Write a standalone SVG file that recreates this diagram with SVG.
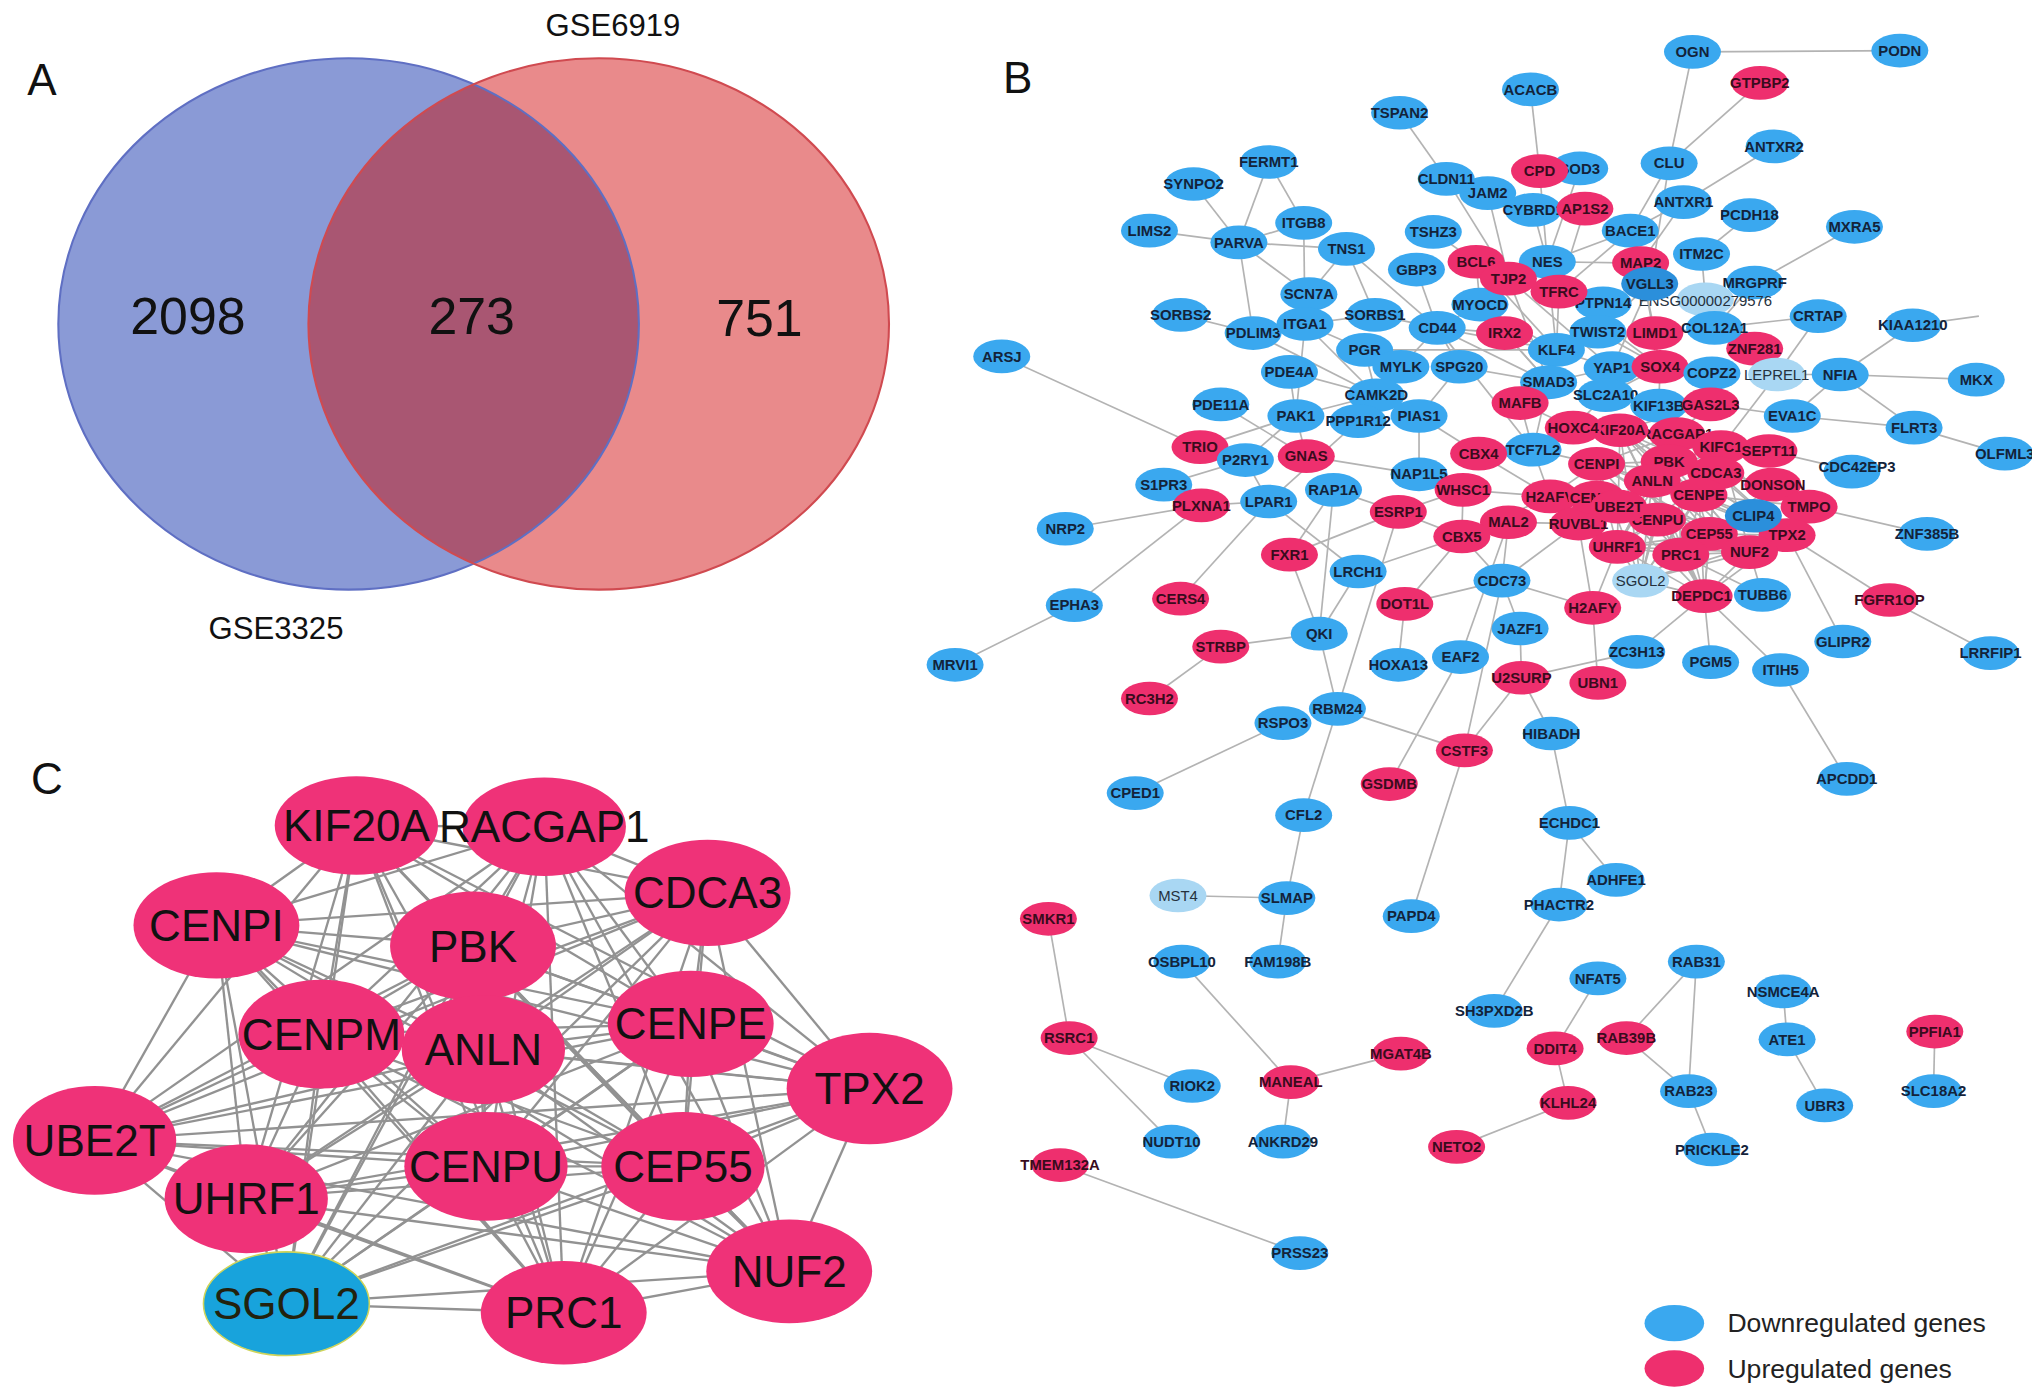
<svg xmlns="http://www.w3.org/2000/svg" width="2032" height="1398" viewBox="0 0 2032 1398">
<defs>
<style>
text{font-family:"Liberation Sans",Arial,Helvetica,sans-serif}
.lbl{font-size:34px;fill:#111}
.venn{font-size:40px;fill:#111;text-anchor:middle}
.setl{font-size:24px;fill:#111;text-anchor:middle}
.gb text{font-size:11.5px;font-weight:bold;text-anchor:middle;fill:#13233a}
.gb.r text{fill:#3a0b1d}
.gb.l text{font-weight:normal;fill:#25313d}
.gb.b ellipse{fill:#3aa8ef}
.gb.d ellipse{fill:#2b8fdb}
.gb.r ellipse{fill:#ee2f6e}
.gb.l ellipse{fill:#a9d7f3}
.gc ellipse{fill:#ef3278}
.gc text{font-size:34px;text-anchor:middle;fill:#111}
#edgesB path{stroke:#b3b3b3;stroke-width:1.3;fill:none}
#edgesC path{stroke:#929292;stroke-width:1.8;fill:none}
.leg{font-size:20.5px;fill:#222}
</style>
<clipPath id="clipBlue"><ellipse cx="269" cy="250" rx="224" ry="205"/></clipPath>
</defs>
<rect width="2032" height="1398" fill="#ffffff"/>
<g transform="scale(1.29592)">

<!-- Panel A -->
<g id="panelA">
<text class="lbl" x="21" y="73">A</text>
<ellipse id="set-GSE3325" cx="269" cy="250" rx="224" ry="205" fill="#8a9ad6"/>
<ellipse id="set-GSE6919" cx="462" cy="250" rx="224" ry="205" fill="#e98a8b"/>
<ellipse id="set-overlap" cx="462" cy="250" rx="224" ry="205" fill="#a95672" clip-path="url(#clipBlue)"/>
<ellipse cx="269" cy="250" rx="224" ry="205" fill="none" stroke="#5f6fc3" stroke-width="1.6"/>
<ellipse cx="462" cy="250" rx="224" ry="205" fill="none" stroke="#d04a50" stroke-width="1.6"/>
<text class="venn" x="145" y="258">2098</text>
<text class="venn" x="364" y="258">273</text>
<text class="venn" x="586" y="259">751</text>
<text class="setl" x="473" y="28">GSE6919</text>
<text class="setl" x="213" y="493">GSE3325</text>
</g>

<text class="lbl" x="774" y="72">B</text>
<text class="lbl" x="24" y="613">C</text>

<g id="edgesB">
<path d="M1306 40L1466 39"/><path d="M1306 40L1288 126"/><path d="M1358 64L1288 126"/><path d="M1288 126L1258 178"/><path d="M1288 126L1273 221"/>
<path d="M1369 113L1299 156"/><path d="M1299 156L1258 178"/><path d="M1299 156L1266 203"/><path d="M1181 69L1188 132"/><path d="M1188 132L1194 202"/>
<path d="M1183 162L1194 202"/><path d="M1223 161L1203 225"/><path d="M1219 130L1194 202"/><path d="M1080 87L1116 138"/><path d="M1116 138L1164 215"/>
<path d="M1148 149L1164 215"/><path d="M1350 166L1313 196"/><path d="M1431 175L1354 218"/><path d="M1313 196L1316 231"/><path d="M1258 178L1194 202"/>
<path d="M1258 178L1266 203"/><path d="M1258 178L1203 225"/><path d="M1194 202L1266 203"/><path d="M1194 202L1203 225"/><path d="M1403 244L1323 253"/>
<path d="M1403 244L1371 289"/><path d="M1476 251L1420 289"/><path d="M1476 251L1527 244"/><path d="M1420 289L1371 289"/><path d="M1420 289L1525 293"/>
<path d="M1420 289L1383 321"/><path d="M1420 289L1477 330"/><path d="M1383 321L1477 330"/><path d="M1477 330L1545 350"/><path d="M1371 289L1328 345"/>
<path d="M1429 363L1365 348"/><path d="M1323 253L1277 257"/><path d="M1354 218L1323 253"/><path d="M1383 321L1320 312"/>
<path d="M979 125L956 187"/><path d="M979 125L1006 172"/><path d="M921 142L956 187"/><path d="M887 178L956 187"/><path d="M956 187L1006 172"/>
<path d="M956 187L1039 192"/><path d="M956 187L967 257"/><path d="M956 187L1010 227"/><path d="M1006 172L1007 250"/><path d="M1039 192L1010 227"/>
<path d="M1039 192L1061 243"/><path d="M1039 192L1109 253"/><path d="M911 243L967 257"/><path d="M1007 250L1061 243"/><path d="M1007 250L1000 321"/>
<path d="M1007 250L1053 270"/><path d="M967 257L1062 305"/><path d="M1007 250L1062 305"/><path d="M995 287L1062 305"/><path d="M995 287L1000 321"/>
<path d="M1093 208L1109 253"/><path d="M1106 179L1139 202"/><path d="M1061 243L1109 253"/><path d="M1109 253L1081 283"/><path d="M1109 253L1126 283"/>
<path d="M1053 270L1081 283"/><path d="M1053 270L1062 305"/><path d="M1081 283L1062 305"/><path d="M1126 283L1095 321"/><path d="M1062 305L1000 321"/>
<path d="M1062 305L1095 321"/><path d="M1000 321L926 345"/><path d="M1000 321L961 355"/><path d="M1000 321L1008 352"/><path d="M942 312L1008 352"/>
<path d="M773 275L926 345"/><path d="M1095 321L1095 366"/><path d="M1095 321L1141 350"/><path d="M1008 352L1095 366"/><path d="M1048 325L979 387"/>
<path d="M961 355L979 387"/><path d="M898 374L961 355"/><path d="M927 390L979 387"/><path d="M927 390L822 408"/><path d="M927 390L829 467"/>
<path d="M829 467L737 513"/><path d="M979 387L911 462"/><path d="M979 387L1048 441"/><path d="M1029 378L1079 395"/><path d="M1029 378L995 428"/>
<path d="M1029 378L1018 489"/><path d="M995 428L1018 489"/><path d="M1079 395L995 428"/><path d="M1079 395L1128 414"/><path d="M1079 395L1032 547"/>
<path d="M1048 441L1018 489"/><path d="M1048 441L1128 414"/><path d="M1018 489L942 499"/><path d="M1018 489L1032 547"/><path d="M942 499L887 539"/>
<path d="M1032 547L1006 629"/><path d="M1032 547L1130 579"/><path d="M990 558L876 612"/><path d="M1006 629L993 693"/><path d="M993 693L909 691"/>
<path d="M993 693L986 742"/><path d="M1084 466L1079 513"/><path d="M1084 466L1128 414"/><path d="M1084 466L1159 448"/><path d="M1127 507L1072 605"/>
<path d="M1127 507L1164 403"/><path d="M1130 579L1089 707"/><path d="M1130 579L1159 448"/><path d="M1130 579L1174 523"/><path d="M1174 523L1173 485"/>
<path d="M1174 523L1197 566"/><path d="M1174 523L1263 503"/><path d="M1197 566L1211 635"/><path d="M1211 635L1247 679"/><path d="M1211 635L1203 698"/>
<path d="M1203 698L1153 780"/><path d="M1173 485L1159 448"/><path d="M1159 448L1229 469"/><path d="M1159 448L1164 403"/><path d="M1159 448L1218 404"/>
<path d="M1159 448L1128 414"/><path d="M1229 469L1233 527"/><path d="M1229 469L1248 422"/><path d="M1229 469L1218 404"/><path d="M1315 460L1263 503"/>
<path d="M1315 460L1320 511"/><path d="M1315 460L1374 517"/><path d="M1374 517L1425 601"/><path d="M1379 413L1422 495"/><path d="M1379 413L1458 463"/>
<path d="M1458 463L1536 504"/><path d="M1396 391L1487 412"/><path d="M1360 459L1350 426"/><path d="M1360 459L1297 428"/>
<path d="M809 709L825 801"/><path d="M825 801L920 838"/><path d="M825 801L904 881"/><path d="M912 742L996 835"/><path d="M996 835L1081 813"/>
<path d="M996 835L990 881"/><path d="M818 899L1003 967"/><path d="M1233 755L1200 809"/><path d="M1200 809L1210 851"/><path d="M1210 851L1124 885"/>
<path d="M1309 742L1255 801"/><path d="M1309 742L1303 842"/><path d="M1255 801L1303 842"/><path d="M1303 842L1321 887"/><path d="M1376 765L1379 802"/>
<path d="M1379 802L1408 853"/><path d="M1493 796L1492 842"/>
<path d="M1194 202L1233 256"/><path d="M1194 202L1201 270"/><path d="M1164 215L1244 284"/><path d="M1164 215L1195 295"/><path d="M1203 225L1201 270"/>
<path d="M1203 225L1281 283"/><path d="M1273 219L1244 284"/><path d="M1273 219L1233 256"/><path d="M1266 203L1281 283"/><path d="M1266 203L1277 257"/>
<path d="M1142 235L1195 295"/><path d="M1142 235L1201 270"/><path d="M1142 235L1109 253"/><path d="M1161 257L1201 270"/><path d="M1161 257L1195 295"/>
<path d="M1109 253L1161 257"/><path d="M1109 253L1201 270"/><path d="M1109 253L1195 295"/><path d="M1109 253L1183 347"/><path d="M1139 202L1201 270"/>
<path d="M1139 202L1142 235"/><path d="M1233 256L1281 283"/><path d="M1201 270L1195 295"/><path d="M1201 270L1244 284"/><path d="M1195 295L1244 284"/>
<path d="M1195 295L1183 347"/><path d="M1195 295L1173 311"/><path d="M1244 284L1281 283"/><path d="M1281 283L1280 313"/><path d="M1281 283L1321 288"/>
<path d="M1281 283L1239 305"/><path d="M1354 269L1323 253"/><path d="M1321 288L1320 312"/><path d="M1239 305L1214 330"/><path d="M1280 313L1320 312"/>
<path d="M1173 311L1183 347"/><path d="M1183 347L1141 350"/><path d="M1183 347L1196 383"/><path d="M1183 347L1232 358"/><path d="M1214 330L1173 311"/>
<path d="M1141 350L1196 383"/><path d="M1129 378L1196 383"/><path d="M1129 378L1128 414"/><path d="M1129 378L1079 395"/><path d="M1164 403L1218 404"/>
<path d="M1128 414L1196 383"/><path d="M1196 383L1218 404"/><path d="M1196 383L1232 358"/><path d="M1218 404L1248 422"/><path d="M1126 283L1195 295"/>
<path d="M1053 270L1201 270"/><path d="M1095 366L1129 378"/><path d="M1320 312L1250 332"/><path d="M1320 312L1294 335"/><path d="M1396 391L1379 413"/>
<path d="M1396 391L1311 382"/><path d="M1368 374L1324 365"/><path d="M1368 374L1319 412"/><path d="M1353 398L1311 382"/>
<path d="M1266 448L1250 332"/><path d="M1266 448L1294 335"/><path d="M1266 448L1232 358"/><path d="M1266 448L1288 356"/><path d="M1266 448L1275 371"/>
<path d="M1266 448L1311 382"/><path d="M1266 448L1319 412"/><path d="M1266 448L1297 428"/><path d="M1266 448L1350 426"/><path d="M1266 448L1248 422"/>
<path d="M1266 448L1379 413"/><path d="M1266 448L1315 460"/><path d="M1266 448L1324 365"/><path d="M1266 448L1279 401"/>
<path d="M1315 460L1297 428"/><path d="M1315 460L1350 426"/><path d="M1315 460L1319 412"/><path d="M1315 460L1279 401"/><path d="M1315 460L1248 422"/>
<path d="M1315 460L1379 413"/><path d="M1315 460L1275 371"/><path d="M1315 460L1311 382"/><path d="M1315 460L1288 356"/><path d="M1315 460L1250 332"/>
<path d="M1315 460L1324 365"/><path d="M1315 460L1249 391"/>
<path d="M1379 413L1250 332"/><path d="M1379 413L1294 335"/><path d="M1379 413L1232 358"/><path d="M1379 413L1288 356"/><path d="M1379 413L1275 371"/>
<path d="M1379 413L1311 382"/><path d="M1379 413L1319 412"/><path d="M1379 413L1297 428"/><path d="M1379 413L1350 426"/><path d="M1379 413L1248 422"/>
<path d="M1379 413L1249 391"/><path d="M1379 413L1324 365"/><path d="M1379 413L1279 401"/>
<path d="M1350 426L1250 332"/><path d="M1350 426L1232 358"/><path d="M1350 426L1288 356"/><path d="M1350 426L1275 371"/><path d="M1350 426L1311 382"/>
<path d="M1350 426L1319 412"/><path d="M1350 426L1297 428"/><path d="M1350 426L1248 422"/><path d="M1350 426L1249 391"/><path d="M1350 426L1279 401"/>
<path d="M1248 422L1250 332"/><path d="M1248 422L1294 335"/><path d="M1248 422L1232 358"/><path d="M1248 422L1288 356"/><path d="M1248 422L1275 371"/>
<path d="M1248 422L1311 382"/><path d="M1248 422L1319 412"/><path d="M1248 422L1297 428"/><path d="M1248 422L1324 365"/>
<path d="M1232 358L1294 335"/><path d="M1232 358L1288 356"/><path d="M1232 358L1275 371"/><path d="M1232 358L1311 382"/><path d="M1232 358L1319 412"/>
<path d="M1232 358L1297 428"/><path d="M1232 358L1324 365"/>
<path d="M1250 332L1288 356"/><path d="M1250 332L1311 382"/><path d="M1250 332L1319 412"/><path d="M1250 332L1297 428"/><path d="M1250 332L1324 365"/>
<path d="M1294 335L1275 371"/><path d="M1294 335L1311 382"/><path d="M1294 335L1319 412"/><path d="M1294 335L1297 428"/><path d="M1294 335L1249 391"/>
<path d="M1328 345L1288 356"/><path d="M1328 345L1275 371"/><path d="M1328 345L1319 412"/><path d="M1328 345L1350 426"/><path d="M1328 345L1379 413"/>
<path d="M1328 345L1297 428"/><path d="M1328 345L1250 332"/>
</g>

<g id="nodesB">
<g id="b-OGN" class="gb b"><ellipse cx="1306" cy="40" rx="22" ry="13"/><text x="1306" y="44">OGN</text></g>
<g id="b-PODN" class="gb b"><ellipse cx="1466" cy="39" rx="22" ry="13"/><text x="1466" y="43">PODN</text></g>
<g id="b-GTPBP2" class="gb r"><ellipse cx="1358" cy="64" rx="22" ry="13"/><text x="1358" y="68">GTPBP2</text></g>
<g id="b-ACACB" class="gb b"><ellipse cx="1181" cy="69" rx="22" ry="13"/><text x="1181" y="73">ACACB</text></g>
<g id="b-TSPAN2" class="gb b"><ellipse cx="1080" cy="87" rx="22" ry="13"/><text x="1080" y="91">TSPAN2</text></g>
<g id="b-ANTXR2" class="gb b"><ellipse cx="1369" cy="113" rx="22" ry="13"/><text x="1369" y="117">ANTXR2</text></g>
<g id="b-CLU" class="gb b"><ellipse cx="1288" cy="126" rx="22" ry="13"/><text x="1288" y="130">CLU</text></g>
<g id="b-FERMT1" class="gb b"><ellipse cx="979" cy="125" rx="22" ry="13"/><text x="979" y="129">FERMT1</text></g>
<g id="b-SOD3" class="gb b"><ellipse cx="1219" cy="130" rx="22" ry="13"/><text x="1219" y="134">SOD3</text></g>
<g id="b-CPD" class="gb r"><ellipse cx="1188" cy="132" rx="22" ry="13"/><text x="1188" y="136">CPD</text></g>
<g id="b-JAM2" class="gb b"><ellipse cx="1148" cy="149" rx="22" ry="13"/><text x="1148" y="153">JAM2</text></g>
<g id="b-CLDN11" class="gb b"><ellipse cx="1116" cy="138" rx="22" ry="13"/><text x="1116" y="142">CLDN11</text></g>
<g id="b-SYNPO2" class="gb b"><ellipse cx="921" cy="142" rx="22" ry="13"/><text x="921" y="146">SYNPO2</text></g>
<g id="b-ANTXR1" class="gb b"><ellipse cx="1299" cy="156" rx="22" ry="13"/><text x="1299" y="160">ANTXR1</text></g>
<g id="b-CYBRD1" class="gb b"><ellipse cx="1183" cy="162" rx="22" ry="13"/><text x="1183" y="166">CYBRD1</text></g>
<g id="b-AP1S2" class="gb r"><ellipse cx="1223" cy="161" rx="22" ry="13"/><text x="1223" y="165">AP1S2</text></g>
<g id="b-PCDH18" class="gb b"><ellipse cx="1350" cy="166" rx="22" ry="13"/><text x="1350" y="170">PCDH18</text></g>
<g id="b-MXRA5" class="gb b"><ellipse cx="1431" cy="175" rx="22" ry="13"/><text x="1431" y="179">MXRA5</text></g>
<g id="b-LIMS2" class="gb b"><ellipse cx="887" cy="178" rx="22" ry="13"/><text x="887" y="182">LIMS2</text></g>
<g id="b-PARVA" class="gb b"><ellipse cx="956" cy="187" rx="22" ry="13"/><text x="956" y="191">PARVA</text></g>
<g id="b-ITGB8" class="gb b"><ellipse cx="1006" cy="172" rx="22" ry="13"/><text x="1006" y="176">ITGB8</text></g>
<g id="b-TSHZ3" class="gb b"><ellipse cx="1106" cy="179" rx="22" ry="13"/><text x="1106" y="183">TSHZ3</text></g>
<g id="b-BACE1" class="gb b"><ellipse cx="1258" cy="178" rx="22" ry="13"/><text x="1258" y="182">BACE1</text></g>
<g id="b-TNS1" class="gb b"><ellipse cx="1039" cy="192" rx="22" ry="13"/><text x="1039" y="196">TNS1</text></g>
<g id="b-ITM2C" class="gb b"><ellipse cx="1313" cy="196" rx="22" ry="13"/><text x="1313" y="200">ITM2C</text></g>
<g id="b-GBP3" class="gb b"><ellipse cx="1093" cy="208" rx="22" ry="13"/><text x="1093" y="212">GBP3</text></g>
<g id="b-MYOCD" class="gb b"><ellipse cx="1142" cy="235" rx="22" ry="13"/><text x="1142" y="239">MYOCD</text></g>
<g id="b-BCL6" class="gb r"><ellipse cx="1139" cy="202" rx="22" ry="13"/><text x="1139" y="206">BCL6</text></g>
<g id="b-NES" class="gb b"><ellipse cx="1194" cy="202" rx="22" ry="13"/><text x="1194" y="206">NES</text></g>
<g id="b-MAP2" class="gb r"><ellipse cx="1266" cy="203" rx="22" ry="13"/><text x="1266" y="207">MAP2</text></g>
<g id="b-TJP2" class="gb r"><ellipse cx="1164" cy="215" rx="22" ry="13"/><text x="1164" y="219">TJP2</text></g>
<g id="b-MRGPRF" class="gb b"><ellipse cx="1354" cy="218" rx="22" ry="13"/><text x="1354" y="222">MRGPRF</text></g>
<g id="b-ENSG00000279576" class="gb l"><ellipse cx="1316" cy="231" rx="22" ry="13"/><text x="1316" y="236">ENSG00000279576</text></g>
<g id="b-VGLL3" class="gb b d"><ellipse cx="1273" cy="219" rx="22" ry="13"/><text x="1273" y="223">VGLL3</text></g>
<g id="b-PTPN14" class="gb b"><ellipse cx="1237" cy="234" rx="22" ry="13"/><text x="1237" y="238">PTPN14</text></g>
<g id="b-TFRC" class="gb r"><ellipse cx="1203" cy="225" rx="22" ry="13"/><text x="1203" y="229">TFRC</text></g>
<g id="b-SCN7A" class="gb b"><ellipse cx="1010" cy="227" rx="22" ry="13"/><text x="1010" y="231">SCN7A</text></g>
<g id="b-PDLIM3" class="gb b"><ellipse cx="967" cy="257" rx="22" ry="13"/><text x="967" y="261">PDLIM3</text></g>
<g id="b-ITGA1" class="gb b"><ellipse cx="1007" cy="250" rx="22" ry="13"/><text x="1007" y="254">ITGA1</text></g>
<g id="b-SORBS1" class="gb b"><ellipse cx="1061" cy="243" rx="22" ry="13"/><text x="1061" y="247">SORBS1</text></g>
<g id="b-SORBS2" class="gb b"><ellipse cx="911" cy="243" rx="22" ry="13"/><text x="911" y="247">SORBS2</text></g>
<g id="b-CD44" class="gb b"><ellipse cx="1109" cy="253" rx="22" ry="13"/><text x="1109" y="257">CD44</text></g>
<g id="b-CRTAP" class="gb b"><ellipse cx="1403" cy="244" rx="22" ry="13"/><text x="1403" y="248">CRTAP</text></g>
<g id="b-KIAA1210" class="gb b"><ellipse cx="1476" cy="251" rx="22" ry="13"/><text x="1476" y="255">KIAA1210</text></g>
<g id="b-IRX2" class="gb r"><ellipse cx="1161" cy="257" rx="22" ry="13"/><text x="1161" y="261">IRX2</text></g>
<g id="b-TWIST2" class="gb b"><ellipse cx="1233" cy="256" rx="22" ry="13"/><text x="1233" y="260">TWIST2</text></g>
<g id="b-LIMD1" class="gb r"><ellipse cx="1277" cy="257" rx="22" ry="13"/><text x="1277" y="261">LIMD1</text></g>
<g id="b-ZNF281" class="gb r"><ellipse cx="1354" cy="269" rx="22" ry="13"/><text x="1354" y="273">ZNF281</text></g>
<g id="b-COL12A1" class="gb b"><ellipse cx="1323" cy="253" rx="22" ry="13"/><text x="1323" y="257">COL12A1</text></g>
<g id="b-KLF4" class="gb b"><ellipse cx="1201" cy="270" rx="22" ry="13"/><text x="1201" y="274">KLF4</text></g>
<g id="b-PGR" class="gb b"><ellipse cx="1053" cy="270" rx="22" ry="13"/><text x="1053" y="274">PGR</text></g>
<g id="b-ARSJ" class="gb b"><ellipse cx="773" cy="275" rx="22" ry="13"/><text x="773" y="279">ARSJ</text></g>
<g id="b-YAP1" class="gb b"><ellipse cx="1244" cy="284" rx="22" ry="13"/><text x="1244" y="288">YAP1</text></g>
<g id="b-SOX4" class="gb r"><ellipse cx="1281" cy="283" rx="22" ry="13"/><text x="1281" y="287">SOX4</text></g>
<g id="b-MYLK" class="gb b"><ellipse cx="1081" cy="283" rx="22" ry="13"/><text x="1081" y="287">MYLK</text></g>
<g id="b-SPG20" class="gb b"><ellipse cx="1126" cy="283" rx="22" ry="13"/><text x="1126" y="287">SPG20</text></g>
<g id="b-COPZ2" class="gb b"><ellipse cx="1321" cy="288" rx="22" ry="13"/><text x="1321" y="292">COPZ2</text></g>
<g id="b-LEPREL1" class="gb l"><ellipse cx="1371" cy="289" rx="22" ry="13"/><text x="1371" y="293">LEPREL1</text></g>
<g id="b-NFIA" class="gb b"><ellipse cx="1420" cy="289" rx="22" ry="13"/><text x="1420" y="293">NFIA</text></g>
<g id="b-MKX" class="gb b"><ellipse cx="1525" cy="293" rx="22" ry="13"/><text x="1525" y="297">MKX</text></g>
<g id="b-PDE4A" class="gb b"><ellipse cx="995" cy="287" rx="22" ry="13"/><text x="995" y="291">PDE4A</text></g>
<g id="b-SMAD3" class="gb b"><ellipse cx="1195" cy="295" rx="22" ry="13"/><text x="1195" y="299">SMAD3</text></g>
<g id="b-SLC2A10" class="gb b"><ellipse cx="1239" cy="305" rx="22" ry="13"/><text x="1239" y="309">SLC2A10</text></g>
<g id="b-MAFB" class="gb r"><ellipse cx="1173" cy="311" rx="22" ry="13"/><text x="1173" y="315">MAFB</text></g>
<g id="b-KIF13B" class="gb b"><ellipse cx="1280" cy="313" rx="22" ry="13"/><text x="1280" y="317">KIF13B</text></g>
<g id="b-GAS2L3" class="gb r"><ellipse cx="1320" cy="312" rx="22" ry="13"/><text x="1320" y="316">GAS2L3</text></g>
<g id="b-PDE11A" class="gb b"><ellipse cx="942" cy="312" rx="22" ry="13"/><text x="942" y="316">PDE11A</text></g>
<g id="b-EVA1C" class="gb b"><ellipse cx="1383" cy="321" rx="22" ry="13"/><text x="1383" y="325">EVA1C</text></g>
<g id="b-FLRT3" class="gb b"><ellipse cx="1477" cy="330" rx="22" ry="13"/><text x="1477" y="334">FLRT3</text></g>
<g id="b-OLFML3" class="gb b"><ellipse cx="1547" cy="350" rx="22" ry="13"/><text x="1547" y="354">OLFML3</text></g>
<g id="b-CAMK2D" class="gb b"><ellipse cx="1062" cy="305" rx="22" ry="13"/><text x="1062" y="309">CAMK2D</text></g>
<g id="b-PAK1" class="gb b"><ellipse cx="1000" cy="321" rx="22" ry="13"/><text x="1000" y="325">PAK1</text></g>
<g id="b-PPP1R12" class="gb b"><ellipse cx="1048" cy="325" rx="22" ry="13"/><text x="1048" y="329">PPP1R12</text></g>
<g id="b-PIAS1" class="gb b"><ellipse cx="1095" cy="321" rx="22" ry="13"/><text x="1095" y="325">PIAS1</text></g>
<g id="b-RACGAP1" class="gb r"><ellipse cx="1294" cy="335" rx="22" ry="13"/><text x="1294" y="339">RACGAP1</text></g>
<g id="b-KIF20A" class="gb r"><ellipse cx="1250" cy="332" rx="22" ry="13"/><text x="1250" y="336">KIF20A</text></g>
<g id="b-HOXC4" class="gb r"><ellipse cx="1214" cy="330" rx="22" ry="13"/><text x="1214" y="334">HOXC4</text></g>
<g id="b-KIFC1" class="gb r"><ellipse cx="1328" cy="345" rx="22" ry="13"/><text x="1328" y="349">KIFC1</text></g>
<g id="b-SEPT11" class="gb r"><ellipse cx="1365" cy="348" rx="22" ry="13"/><text x="1365" y="352">SEPT11</text></g>
<g id="b-TRIO" class="gb r"><ellipse cx="926" cy="345" rx="22" ry="13"/><text x="926" y="349">TRIO</text></g>
<g id="b-TCF7L2" class="gb b"><ellipse cx="1183" cy="347" rx="22" ry="13"/><text x="1183" y="351">TCF7L2</text></g>
<g id="b-CBX4" class="gb r"><ellipse cx="1141" cy="350" rx="22" ry="13"/><text x="1141" y="354">CBX4</text></g>
<g id="b-P2RY1" class="gb b"><ellipse cx="961" cy="355" rx="22" ry="13"/><text x="961" y="359">P2RY1</text></g>
<g id="b-GNAS" class="gb r"><ellipse cx="1008" cy="352" rx="22" ry="13"/><text x="1008" y="356">GNAS</text></g>
<g id="b-PBK" class="gb r"><ellipse cx="1288" cy="356" rx="22" ry="13"/><text x="1288" y="360">PBK</text></g>
<g id="b-CENPI" class="gb r"><ellipse cx="1232" cy="358" rx="22" ry="13"/><text x="1232" y="362">CENPI</text></g>
<g id="b-CDCA3" class="gb r"><ellipse cx="1324" cy="365" rx="22" ry="13"/><text x="1324" y="369">CDCA3</text></g>
<g id="b-CDC42EP3" class="gb b"><ellipse cx="1429" cy="364" rx="22" ry="13"/><text x="1433" y="364">CDC42EP3</text></g>
<g id="b-NAP1L5" class="gb b"><ellipse cx="1095" cy="366" rx="22" ry="13"/><text x="1095" y="370">NAP1L5</text></g>
<g id="b-WHSC1" class="gb r"><ellipse cx="1129" cy="378" rx="22" ry="13"/><text x="1129" y="382">WHSC1</text></g>
<g id="b-ANLN" class="gb r"><ellipse cx="1275" cy="371" rx="22" ry="13"/><text x="1275" y="375">ANLN</text></g>
<g id="b-DONSON" class="gb r"><ellipse cx="1368" cy="374" rx="22" ry="13"/><text x="1368" y="378">DONSON</text></g>
<g id="b-CENPE" class="gb r"><ellipse cx="1311" cy="382" rx="22" ry="13"/><text x="1311" y="386">CENPE</text></g>
<g id="b-H2AFV" class="gb r"><ellipse cx="1196" cy="383" rx="22" ry="13"/><text x="1196" y="387">H2AFV</text></g>
<g id="b-RUVBL1" class="gb r"><ellipse cx="1218" cy="404" rx="22" ry="13"/><text x="1218" y="408">RUVBL1</text></g>
<g id="b-CENPM" class="gb r"><ellipse cx="1232" cy="384" rx="22" ry="13"/><text x="1232" y="388">CENPM</text></g>
<g id="b-CENPU" class="gb r"><ellipse cx="1279" cy="401" rx="22" ry="13"/><text x="1279" y="405">CENPU</text></g>
<g id="b-UBE2T" class="gb r"><ellipse cx="1249" cy="391" rx="22" ry="13"/><text x="1249" y="395">UBE2T</text></g>
<g id="b-TMPO" class="gb r"><ellipse cx="1396" cy="391" rx="22" ry="13"/><text x="1396" y="395">TMPO</text></g>
<g id="b-S1PR3" class="gb b"><ellipse cx="898" cy="374" rx="22" ry="13"/><text x="898" y="378">S1PR3</text></g>
<g id="b-PLXNA1" class="gb r"><ellipse cx="927" cy="390" rx="22" ry="13"/><text x="927" y="394">PLXNA1</text></g>
<g id="b-LPAR1" class="gb b"><ellipse cx="979" cy="387" rx="22" ry="13"/><text x="979" y="391">LPAR1</text></g>
<g id="b-RAP1A" class="gb b"><ellipse cx="1029" cy="378" rx="22" ry="13"/><text x="1029" y="382">RAP1A</text></g>
<g id="b-MAL2" class="gb r"><ellipse cx="1164" cy="403" rx="22" ry="13"/><text x="1164" y="407">MAL2</text></g>
<g id="b-CEP55" class="gb r"><ellipse cx="1319" cy="412" rx="22" ry="13"/><text x="1319" y="416">CEP55</text></g>
<g id="b-TPX2" class="gb r"><ellipse cx="1379" cy="413" rx="22" ry="13"/><text x="1379" y="417">TPX2</text></g>
<g id="b-NUF2" class="gb r"><ellipse cx="1350" cy="426" rx="22" ry="13"/><text x="1350" y="430">NUF2</text></g>
<g id="b-CLIP4" class="gb b d"><ellipse cx="1353" cy="398" rx="22" ry="13"/><text x="1353" y="402">CLIP4</text></g>
<g id="b-ZNF385B" class="gb b"><ellipse cx="1487" cy="412" rx="22" ry="13"/><text x="1487" y="416">ZNF385B</text></g>
<g id="b-NRP2" class="gb b"><ellipse cx="822" cy="408" rx="22" ry="13"/><text x="822" y="412">NRP2</text></g>
<g id="b-ESRP1" class="gb r"><ellipse cx="1079" cy="395" rx="22" ry="13"/><text x="1079" y="399">ESRP1</text></g>
<g id="b-CBX5" class="gb r"><ellipse cx="1128" cy="414" rx="22" ry="13"/><text x="1128" y="418">CBX5</text></g>
<g id="b-UHRF1" class="gb r"><ellipse cx="1248" cy="422" rx="22" ry="13"/><text x="1248" y="426">UHRF1</text></g>
<g id="b-PRC1" class="gb r"><ellipse cx="1297" cy="428" rx="22" ry="13"/><text x="1297" y="432">PRC1</text></g>
<g id="b-FXR1" class="gb r"><ellipse cx="995" cy="428" rx="22" ry="13"/><text x="995" y="432">FXR1</text></g>
<g id="b-LRCH1" class="gb b"><ellipse cx="1048" cy="441" rx="22" ry="13"/><text x="1048" y="445">LRCH1</text></g>
<g id="b-CDC73" class="gb b"><ellipse cx="1159" cy="448" rx="22" ry="13"/><text x="1159" y="452">CDC73</text></g>
<g id="b-SGOL2" class="gb l"><ellipse cx="1266" cy="448" rx="22" ry="13"/><text x="1266" y="452">SGOL2</text></g>
<g id="b-DEPDC1" class="gb r"><ellipse cx="1315" cy="460" rx="22" ry="13"/><text x="1313" y="464">DEPDC1</text></g>
<g id="b-TUBB6" class="gb b"><ellipse cx="1360" cy="459" rx="22" ry="13"/><text x="1360" y="463">TUBB6</text></g>
<g id="b-FGFR1OP" class="gb r"><ellipse cx="1458" cy="463" rx="22" ry="13"/><text x="1458" y="467">FGFR1OP</text></g>
<g id="b-CERS4" class="gb r"><ellipse cx="911" cy="462" rx="22" ry="13"/><text x="911" y="466">CERS4</text></g>
<g id="b-EPHA3" class="gb b"><ellipse cx="829" cy="467" rx="22" ry="13"/><text x="829" y="471">EPHA3</text></g>
<g id="b-DOT1L" class="gb r"><ellipse cx="1084" cy="466" rx="22" ry="13"/><text x="1084" y="470">DOT1L</text></g>
<g id="b-H2AFY" class="gb r"><ellipse cx="1229" cy="469" rx="22" ry="13"/><text x="1229" y="473">H2AFY</text></g>
<g id="b-GLIPR2" class="gb b"><ellipse cx="1422" cy="495" rx="22" ry="13"/><text x="1422" y="499">GLIPR2</text></g>
<g id="b-JAZF1" class="gb b"><ellipse cx="1173" cy="485" rx="22" ry="13"/><text x="1173" y="489">JAZF1</text></g>
<g id="b-QKI" class="gb b"><ellipse cx="1018" cy="489" rx="22" ry="13"/><text x="1018" y="493">QKI</text></g>
<g id="b-ZC3H13" class="gb b"><ellipse cx="1263" cy="503" rx="22" ry="13"/><text x="1263" y="507">ZC3H13</text></g>
<g id="b-STRBP" class="gb r"><ellipse cx="942" cy="499" rx="22" ry="13"/><text x="942" y="503">STRBP</text></g>
<g id="b-MRVI1" class="gb b"><ellipse cx="737" cy="513" rx="22" ry="13"/><text x="737" y="517">MRVI1</text></g>
<g id="b-LRRFIP1" class="gb b"><ellipse cx="1536" cy="504" rx="22" ry="13"/><text x="1536" y="508">LRRFIP1</text></g>
<g id="b-HOXA13" class="gb b"><ellipse cx="1079" cy="513" rx="22" ry="13"/><text x="1079" y="517">HOXA13</text></g>
<g id="b-EAF2" class="gb b"><ellipse cx="1127" cy="507" rx="22" ry="13"/><text x="1127" y="511">EAF2</text></g>
<g id="b-PGM5" class="gb b"><ellipse cx="1320" cy="511" rx="22" ry="13"/><text x="1320" y="515">PGM5</text></g>
<g id="b-ITIH5" class="gb b"><ellipse cx="1374" cy="517" rx="22" ry="13"/><text x="1374" y="521">ITIH5</text></g>
<g id="b-U2SURP" class="gb r"><ellipse cx="1174" cy="523" rx="22" ry="13"/><text x="1174" y="527">U2SURP</text></g>
<g id="b-UBN1" class="gb r"><ellipse cx="1233" cy="527" rx="22" ry="13"/><text x="1233" y="531">UBN1</text></g>
<g id="b-RC3H2" class="gb r"><ellipse cx="887" cy="539" rx="22" ry="13"/><text x="887" y="543">RC3H2</text></g>
<g id="b-RBM24" class="gb b"><ellipse cx="1032" cy="547" rx="22" ry="13"/><text x="1032" y="551">RBM24</text></g>
<g id="b-RSPO3" class="gb b"><ellipse cx="990" cy="558" rx="22" ry="13"/><text x="990" y="562">RSPO3</text></g>
<g id="b-HIBADH" class="gb b"><ellipse cx="1197" cy="566" rx="22" ry="13"/><text x="1197" y="570">HIBADH</text></g>
<g id="b-CSTF3" class="gb r"><ellipse cx="1130" cy="579" rx="22" ry="13"/><text x="1130" y="583">CSTF3</text></g>
<g id="b-GSDMB" class="gb r"><ellipse cx="1072" cy="605" rx="22" ry="13"/><text x="1072" y="609">GSDMB</text></g>
<g id="b-APCDD1" class="gb b"><ellipse cx="1425" cy="601" rx="22" ry="13"/><text x="1425" y="605">APCDD1</text></g>
<g id="b-CPED1" class="gb b"><ellipse cx="876" cy="612" rx="22" ry="13"/><text x="876" y="616">CPED1</text></g>
<g id="b-CFL2" class="gb b"><ellipse cx="1006" cy="629" rx="22" ry="13"/><text x="1006" y="633">CFL2</text></g>
<g id="b-ECHDC1" class="gb b"><ellipse cx="1211" cy="635" rx="22" ry="13"/><text x="1211" y="639">ECHDC1</text></g>
<g id="b-ADHFE1" class="gb b"><ellipse cx="1247" cy="679" rx="22" ry="13"/><text x="1247" y="683">ADHFE1</text></g>
<g id="b-MST4" class="gb l"><ellipse cx="909" cy="691" rx="22" ry="13"/><text x="909" y="695">MST4</text></g>
<g id="b-SLMAP" class="gb b"><ellipse cx="993" cy="693" rx="22" ry="13"/><text x="993" y="697">SLMAP</text></g>
<g id="b-PHACTR2" class="gb b"><ellipse cx="1203" cy="698" rx="22" ry="13"/><text x="1203" y="702">PHACTR2</text></g>
<g id="b-PAPD4" class="gb b"><ellipse cx="1089" cy="707" rx="22" ry="13"/><text x="1089" y="711">PAPD4</text></g>
<g id="b-SMKR1" class="gb r"><ellipse cx="809" cy="709" rx="22" ry="13"/><text x="809" y="713">SMKR1</text></g>
<g id="b-OSBPL10" class="gb b"><ellipse cx="912" cy="742" rx="22" ry="13"/><text x="912" y="746">OSBPL10</text></g>
<g id="b-FAM198B" class="gb b"><ellipse cx="986" cy="742" rx="22" ry="13"/><text x="986" y="746">FAM198B</text></g>
<g id="b-RAB31" class="gb b"><ellipse cx="1309" cy="742" rx="22" ry="13"/><text x="1309" y="746">RAB31</text></g>
<g id="b-NFAT5" class="gb b"><ellipse cx="1233" cy="755" rx="22" ry="13"/><text x="1233" y="759">NFAT5</text></g>
<g id="b-NSMCE4A" class="gb b"><ellipse cx="1376" cy="765" rx="22" ry="13"/><text x="1376" y="769">NSMCE4A</text></g>
<g id="b-SH3PXD2B" class="gb b"><ellipse cx="1153" cy="780" rx="22" ry="13"/><text x="1153" y="784">SH3PXD2B</text></g>
<g id="b-RSRC1" class="gb r"><ellipse cx="825" cy="801" rx="22" ry="13"/><text x="825" y="805">RSRC1</text></g>
<g id="b-ATE1" class="gb b"><ellipse cx="1379" cy="802" rx="22" ry="13"/><text x="1379" y="806">ATE1</text></g>
<g id="b-PPFIA1" class="gb r"><ellipse cx="1493" cy="796" rx="22" ry="13"/><text x="1493" y="800">PPFIA1</text></g>
<g id="b-DDIT4" class="gb r"><ellipse cx="1200" cy="809" rx="22" ry="13"/><text x="1200" y="813">DDIT4</text></g>
<g id="b-RAB39B" class="gb r"><ellipse cx="1255" cy="801" rx="22" ry="13"/><text x="1255" y="805">RAB39B</text></g>
<g id="b-MGAT4B" class="gb r"><ellipse cx="1081" cy="813" rx="22" ry="13"/><text x="1081" y="817">MGAT4B</text></g>
<g id="b-MANEAL" class="gb r"><ellipse cx="996" cy="835" rx="22" ry="13"/><text x="996" y="839">MANEAL</text></g>
<g id="b-RIOK2" class="gb b"><ellipse cx="920" cy="838" rx="22" ry="13"/><text x="920" y="842">RIOK2</text></g>
<g id="b-RAB23" class="gb b"><ellipse cx="1303" cy="842" rx="22" ry="13"/><text x="1303" y="846">RAB23</text></g>
<g id="b-SLC18A2" class="gb b"><ellipse cx="1492" cy="842" rx="22" ry="13"/><text x="1492" y="846">SLC18A2</text></g>
<g id="b-UBR3" class="gb b"><ellipse cx="1408" cy="853" rx="22" ry="13"/><text x="1408" y="857">UBR3</text></g>
<g id="b-KLHL24" class="gb r"><ellipse cx="1210" cy="851" rx="22" ry="13"/><text x="1210" y="855">KLHL24</text></g>
<g id="b-NUDT10" class="gb b"><ellipse cx="904" cy="881" rx="22" ry="13"/><text x="904" y="885">NUDT10</text></g>
<g id="b-ANKRD29" class="gb b"><ellipse cx="990" cy="881" rx="22" ry="13"/><text x="990" y="885">ANKRD29</text></g>
<g id="b-NETO2" class="gb r"><ellipse cx="1124" cy="885" rx="22" ry="13"/><text x="1124" y="889">NETO2</text></g>
<g id="b-PRICKLE2" class="gb b"><ellipse cx="1321" cy="887" rx="22" ry="13"/><text x="1321" y="891">PRICKLE2</text></g>
<g id="b-TMEM132A" class="gb r"><ellipse cx="818" cy="899" rx="22" ry="13"/><text x="818" y="903">TMEM132A</text></g>
<g id="b-PRSS23" class="gb b"><ellipse cx="1003" cy="967" rx="22" ry="13"/><text x="1003" y="971">PRSS23</text></g>
</g>

<g id="legend">
<ellipse cx="1292" cy="1021" rx="23" ry="14" fill="#3aa8ef"/>
<text class="leg" x="1333" y="1028">Downregulated genes</text>
<ellipse cx="1292" cy="1056" rx="23" ry="14" fill="#ee2f6e"/>
<text class="leg" x="1333" y="1063">Upregulated genes</text>
</g>

<g id="edgesC">
<path d="M275 637L420 638"/><path d="M275 637L546 689"/><path d="M275 637L167 714"/><path d="M275 637L365 730"/><path d="M275 637L248 798"/>
<path d="M275 637L373 810"/><path d="M275 637L533 790"/><path d="M275 637L671 840"/><path d="M275 637L73 880"/><path d="M275 637L375 900"/>
<path d="M275 637L527 900"/><path d="M275 637L190 925"/><path d="M275 637L609 981"/><path d="M275 637L435 1013"/><path d="M275 637L221 1006"/>
<path d="M420 638L546 689"/><path d="M420 638L167 714"/><path d="M420 638L365 730"/><path d="M420 638L248 798"/><path d="M420 638L373 810"/>
<path d="M420 638L533 790"/><path d="M420 638L671 840"/><path d="M420 638L73 880"/><path d="M420 638L375 900"/><path d="M420 638L527 900"/>
<path d="M420 638L190 925"/><path d="M420 638L609 981"/><path d="M420 638L435 1013"/><path d="M420 638L221 1006"/>
<path d="M546 689L167 714"/><path d="M546 689L365 730"/><path d="M546 689L248 798"/><path d="M546 689L373 810"/><path d="M546 689L533 790"/>
<path d="M546 689L671 840"/><path d="M546 689L73 880"/><path d="M546 689L375 900"/><path d="M546 689L527 900"/><path d="M546 689L190 925"/>
<path d="M546 689L609 981"/><path d="M546 689L435 1013"/><path d="M546 689L221 1006"/>
<path d="M167 714L365 730"/><path d="M167 714L248 798"/><path d="M167 714L373 810"/><path d="M167 714L533 790"/><path d="M167 714L671 840"/>
<path d="M167 714L73 880"/><path d="M167 714L375 900"/><path d="M167 714L527 900"/><path d="M167 714L190 925"/><path d="M167 714L609 981"/>
<path d="M167 714L435 1013"/><path d="M167 714L221 1006"/>
<path d="M365 730L248 798"/><path d="M365 730L373 810"/><path d="M365 730L533 790"/><path d="M365 730L671 840"/><path d="M365 730L73 880"/>
<path d="M365 730L375 900"/><path d="M365 730L527 900"/><path d="M365 730L190 925"/><path d="M365 730L609 981"/><path d="M365 730L435 1013"/>
<path d="M365 730L221 1006"/>
<path d="M248 798L373 810"/><path d="M248 798L533 790"/><path d="M248 798L671 840"/><path d="M248 798L73 880"/><path d="M248 798L375 900"/>
<path d="M248 798L527 900"/><path d="M248 798L190 925"/><path d="M248 798L609 981"/><path d="M248 798L435 1013"/><path d="M248 798L221 1006"/>
<path d="M373 810L533 790"/><path d="M373 810L671 840"/><path d="M373 810L73 880"/><path d="M373 810L375 900"/><path d="M373 810L527 900"/>
<path d="M373 810L190 925"/><path d="M373 810L609 981"/><path d="M373 810L435 1013"/><path d="M373 810L221 1006"/>
<path d="M533 790L671 840"/><path d="M533 790L73 880"/><path d="M533 790L375 900"/><path d="M533 790L527 900"/><path d="M533 790L190 925"/>
<path d="M533 790L609 981"/><path d="M533 790L435 1013"/><path d="M533 790L221 1006"/>
<path d="M671 840L73 880"/><path d="M671 840L375 900"/><path d="M671 840L527 900"/><path d="M671 840L190 925"/><path d="M671 840L609 981"/>
<path d="M671 840L435 1013"/><path d="M671 840L221 1006"/>
<path d="M73 880L375 900"/><path d="M73 880L527 900"/><path d="M73 880L190 925"/><path d="M73 880L609 981"/><path d="M73 880L435 1013"/>
<path d="M73 880L221 1006"/>
<path d="M375 900L527 900"/><path d="M375 900L190 925"/><path d="M375 900L609 981"/><path d="M375 900L435 1013"/><path d="M375 900L221 1006"/>
<path d="M527 900L190 925"/><path d="M527 900L609 981"/><path d="M527 900L435 1013"/><path d="M527 900L221 1006"/>
<path d="M190 925L609 981"/><path d="M190 925L435 1013"/><path d="M190 925L221 1006"/>
<path d="M609 981L435 1013"/><path d="M609 981L221 1006"/><path d="M435 1013L221 1006"/>
</g>

<g id="nodesC">
<g id="c-KIF20A" class="gc"><ellipse cx="275" cy="637" rx="63" ry="38"/><text x="275" y="649">KIF20A</text></g>
<g id="c-RACGAP1" class="gc"><ellipse cx="420" cy="638" rx="63" ry="38"/><text x="420" y="650">RACGAP1</text></g>
<g id="c-CDCA3" class="gc"><ellipse cx="546" cy="689" rx="64" ry="41"/><text x="546" y="701">CDCA3</text></g>
<g id="c-CENPI" class="gc"><ellipse cx="167" cy="714" rx="64" ry="41"/><text x="167" y="726">CENPI</text></g>
<g id="c-PBK" class="gc"><ellipse cx="365" cy="730" rx="64" ry="42"/><text x="365" y="742">PBK</text></g>
<g id="c-CENPM" class="gc"><ellipse cx="248" cy="798" rx="64" ry="42"/><text x="248" y="810">CENPM</text></g>
<g id="c-ANLN" class="gc"><ellipse cx="373" cy="810" rx="63" ry="42"/><text x="373" y="822">ANLN</text></g>
<g id="c-CENPE" class="gc"><ellipse cx="533" cy="790" rx="64" ry="41"/><text x="533" y="802">CENPE</text></g>
<g id="c-TPX2" class="gc"><ellipse cx="671" cy="840" rx="64" ry="43"/><text x="671" y="852">TPX2</text></g>
<g id="c-UBE2T" class="gc"><ellipse cx="73" cy="880" rx="63" ry="42"/><text x="73" y="892">UBE2T</text></g>
<g id="c-CENPU" class="gc"><ellipse cx="375" cy="900" rx="63" ry="42"/><text x="375" y="912">CENPU</text></g>
<g id="c-CEP55" class="gc"><ellipse cx="527" cy="900" rx="63" ry="42"/><text x="527" y="912">CEP55</text></g>
<g id="c-UHRF1" class="gc"><ellipse cx="190" cy="925" rx="63" ry="42"/><text x="190" y="937">UHRF1</text></g>
<g id="c-NUF2" class="gc"><ellipse cx="609" cy="981" rx="64" ry="40"/><text x="609" y="993">NUF2</text></g>
<g id="c-PRC1" class="gc"><ellipse cx="435" cy="1013" rx="64" ry="40"/><text x="435" y="1025">PRC1</text></g>
<g id="c-SGOL2" class="gc"><ellipse cx="221" cy="1006" rx="64" ry="40" style="fill:#18a3dc" stroke="#cfd45a" stroke-width="1.2"/><text x="221" y="1018" style="fill:#22220e">SGOL2</text></g>
</g>

</g>
</svg>
